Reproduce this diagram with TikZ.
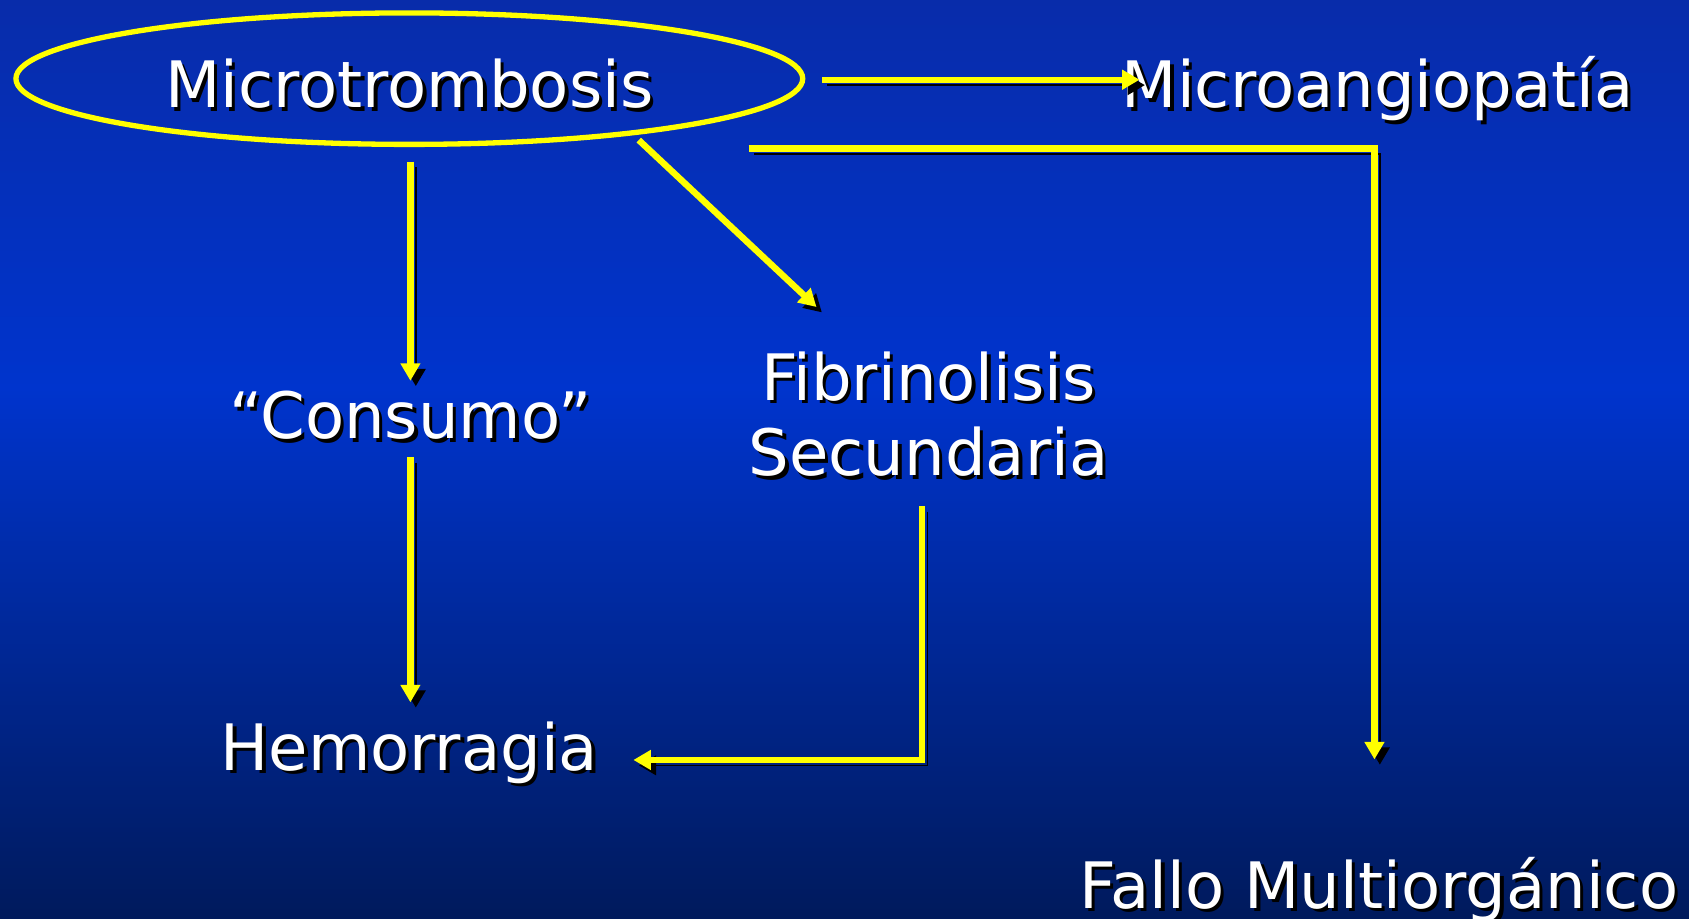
\documentclass[tikz,border=0pt]{standalone}
\usepackage{fontspec}
\setmainfont{DejaVu Sans}
\usetikzlibrary{shapes.geometric,arrows.meta,calc}
\definecolor{bgtop}{RGB}{8,44,170}
\definecolor{bgmid}{RGB}{0,52,205}
\definecolor{bgbot}{RGB}{0,26,92}
\definecolor{arrowyellow}{RGB}{255,255,0}
\newcommand\shd[1]{\makebox[0pt][l]{\kern0.9pt\raisebox{-0.9pt}{\color{black}#1}}#1}
\tikzset{
  labeltext/.style={text=white, inner sep=0pt, font=\fontsize{16.9}{19.9}\selectfont},
  link/.style={draw=arrowyellow, line width=1.7pt, -{Triangle[length=4.6pt,width=5pt]},
    preaction={draw=black, transform canvas={shift={(5,5)}}}},
  ringstyle/.style={ellipse, draw=arrowyellow, line width=1.4pt, minimum width=7.3cm,
    minimum height=1.22cm, inner sep=0pt, outer sep=0pt}
}
\begin{document}
\begin{tikzpicture}[x=0.01cm,y=-0.01cm]
\shade[top color=bgtop, bottom color=bgmid] (0,0) rectangle (1568,361);
\shade[top color=bgmid, bottom color=bgbot] (0,360) rectangle (1568,853);
\useasboundingbox (0,0) rectangle (1568,853);

\node[ringstyle] (ell) at (380,73) {};
\node[labeltext, anchor=base] (mt) at (380,100) {\shd{Microtrombosis}};
\node[labeltext, anchor=base] (ma) at (1279,100) {\shd{Microangiopatía}};
\node[labeltext, anchor=base] (con) at (381,407.5) {\shd{“Consumo”}};
\node[labeltext, align=center] (fib) at (862,386) {\shd{Fibrinolisis}\\\shd{Secundaria}};
\node[labeltext, anchor=base] (hem) at (380,715) {\shd{Hemorragia}};
\node[labeltext, anchor=base] (fallo) at (1280,843) {\shd{Fallo Multiorgánico}};

\draw[link] ($(ell.east)+(18,1)$) -- ($(ma.base)+(-221,-26)$);
\draw[link] ($(ell.south)+(315,4)$) -| ($(fallo.base)+(-4,-138)$);
\draw[link] ($(ell.south)+(1,16)$) -- ($(con.base)+(0,-54)$);
\draw[link] ($(ell.south)+(213,-4)$) -- ($(fib.center)+(-104,-101)$);
\draw[link] ($(con.base)+(0,17)$) -- ($(hem.base)+(1,-63)$);
\draw[link] ($(fib.center)+(-6,84)$) |- ($(hem.base)+(208,-9.5)$);
\end{tikzpicture}
\end{document}
